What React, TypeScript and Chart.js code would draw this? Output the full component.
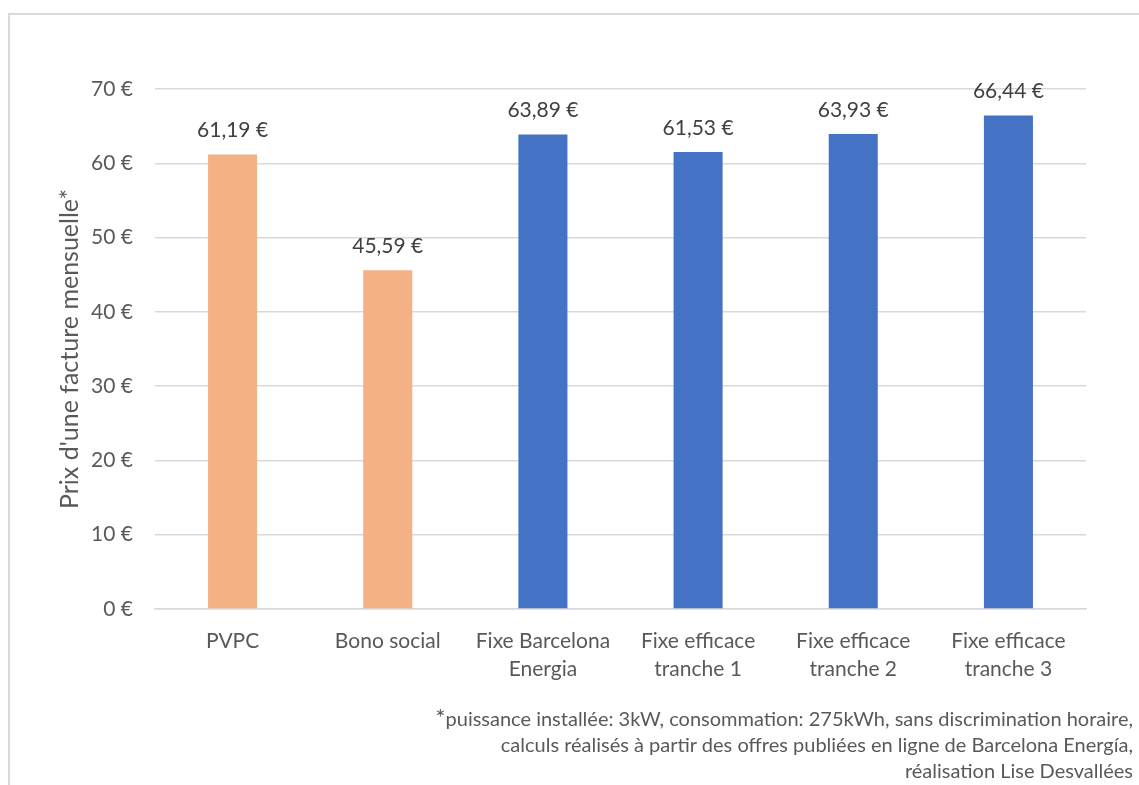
import React, { useEffect, useRef } from "react";
import { Chart, registerables } from "chart.js";

Chart.register(...registerables);

const categories: (string | string[])[] = [
  "PVPC",
  "Bono social",
  ["Fixe Barcelona", "Energia"],
  ["Fixe efficace", "tranche 1"],
  ["Fixe efficace", "tranche 2"],
  ["Fixe efficace", "tranche 3"],
];
const values = [61.19, 45.59, 63.89, 61.53, 63.93, 66.44];
const barColors = ["#F4B183", "#F4B183", "#4472C4", "#4472C4", "#4472C4", "#4472C4"];
const yMin = 0;
const yMax = 70;
const yStep = 10;
const yTitle = "Prix d'une facture mensuelle*";
const footnoteStar = "*";
const footnoteLines = [
  "puissance installée: 3kW, consommation: 275kWh, sans discrimination horaire,",
  "calculs réalisés à partir des offres publiées en ligne de Barcelona Energía,",
  "réalisation Lise Desvallées",
];

const FONT = "Lato, 'Open Sans', sans-serif";
const TEXT = "#595959";
const GRID = "#D9D9D9";

const fmt = (v: number) => v.toFixed(2).replace(".", ",") + " €";

const dataLabels = {
  id: "dataLabels",
  afterDatasetsDraw(chart: any) {
    const ctx = chart.ctx;
    const meta = chart.getDatasetMeta(0);
    ctx.save();
    ctx.font = `21px ${FONT}`;
    ctx.fillStyle = "#404040";
    ctx.textAlign = "center";
    ctx.textBaseline = "middle";
    meta.data.forEach((bar: any, i: number) => {
      ctx.fillText(fmt(values[i]), bar.x, bar.y - 24);
    });
    ctx.restore();
  },
};

export default function App() {
  const ref = useRef<HTMLCanvasElement | null>(null);

  useEffect(() => {
    if (!ref.current) return;
    const chart = new Chart(ref.current, {
      type: "bar",
      data: {
        labels: categories,
        datasets: [
          {
            data: values,
            backgroundColor: barColors,
            borderWidth: 0,
            categoryPercentage: 1,
            barPercentage: 0.316,
          },
        ],
      },
      options: {
        responsive: false,
        animation: false,
        layout: { padding: { top: 74, right: 24, left: 0, bottom: 0 } },
        plugins: {
          legend: { display: false },
          tooltip: { enabled: false },
        },
        scales: {
          x: {
            grid: { display: false },
            border: { color: GRID, width: 1.5 },
            ticks: {
              color: TEXT,
              font: { family: FONT, size: 21, lineHeight: 28 / 21 },
              padding: 10,
              maxRotation: 0,
              autoSkip: false,
            },
            afterFit: (s: any) => {
              s.height = 96;
            },
          },
          y: {
            min: yMin,
            max: yMax,
            border: { display: false },
            grid: { color: GRID, lineWidth: 1.5, drawTicks: false },
            ticks: {
              stepSize: yStep,
              color: TEXT,
              padding: 22,
              font: { family: FONT, size: 21 },
              callback: (v: any) => `${v} €`,
            },
            title: {
              display: true,
              text: yTitle,
              color: TEXT,
              font: { family: FONT, size: 25 },
              padding: { top: 45, bottom: 0 },
            },
            afterFit: (s: any) => {
              s.width = 145;
            },
          },
        },
      },
      plugins: [dataLabels],
    });
    return () => chart.destroy();
  }, []);

  return (
    <div
      style={{
        position: "fixed",
        left: 8,
        top: 13,
        width: 1140,
        height: 790,
        border: `2px solid ${GRID}`,
        background: "#fff",
      }}
    >
      <canvas
        ref={ref}
        width={1100}
        height={690}
        style={{ position: "absolute", left: 0, top: 0, display: "block" }}
      />
      <div
        style={{
          position: "absolute",
          left: 0,
          top: 690,
          width: 1123,
          textAlign: "right",
          fontFamily: FONT,
          fontSize: 20,
          lineHeight: "26px",
          color: TEXT,
        }}
      >
        {footnoteLines.map((line, i) => (
          <div key={i}>
            {i === 0 ? <span style={{ fontSize: 24, lineHeight: 0 }}>{footnoteStar}</span> : null}
            {line}
          </div>
        ))}
      </div>
    </div>
  );
}
